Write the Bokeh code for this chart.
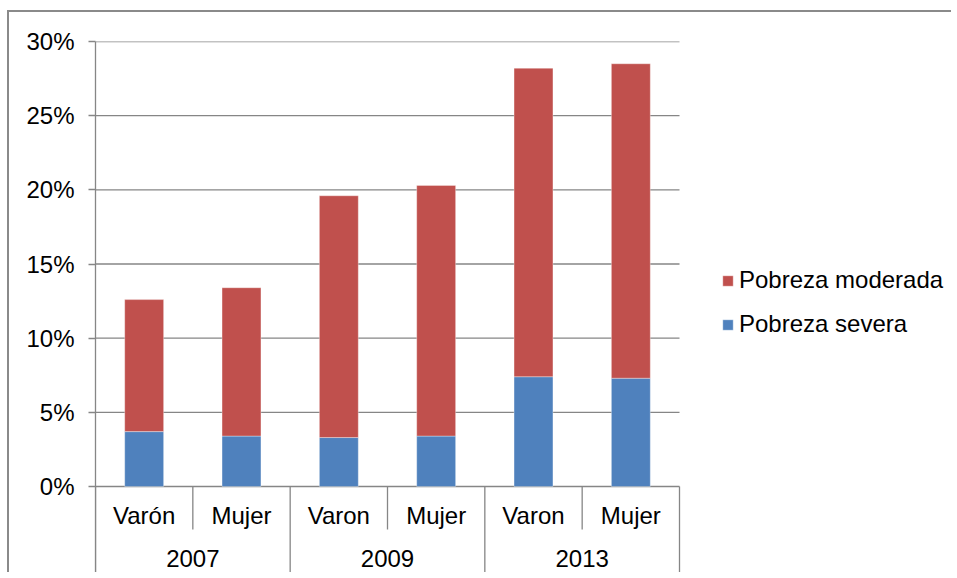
from bokeh.plotting import figure
from bokeh.models import ColumnDataSource, Range1d, FixedTicker, PrintfTickFormatter, Legend, LegendItem
from bokeh.embed import file_html
from bokeh.resources import INLINE
from bokeh.core.properties import value

# ---- data ----
years = ["2007", "2009", "2013"]
sexes = ["Varón", "Mujer", "Varon", "Mujer", "Varon", "Mujer"]
severa = [3.7, 3.4, 3.3, 3.4, 7.4, 7.3]
moderada = [8.9, 10.0, 16.3, 16.9, 20.8, 21.2]
y_ticks = [0, 5, 10, 15, 20, 25, 30]

FONT = "Liberation Sans"
FS = "24px"
GRAY = "#868686"
RED = "#C0504D"
BLUE = "#4F81BD"

# ---- layout (absolute page px) ----
OX, OY = 9, 12
W, H = 957 - OX - 4, 578 - OY - 4
PX_PER_PCT = (486 - 41) / 30.0
y_bot = -(573 - 486) / PX_PER_PCT
cat_px = (679 - 95) / 6.0
x_end = (957 - 4 - 95) / cat_px

n = len(sexes)
xs = [i + 0.5 for i in range(n)]
tops_sev = severa
tops_tot = [s + m for s, m in zip(severa, moderada)]

src = ColumnDataSource(dict(x=xs, sev=tops_sev, tot=tops_tot, zero=[0] * n, sex=sexes))

p = figure(width=W, height=H, output_backend="svg", toolbar_location=None,
           x_range=Range1d(0, x_end), y_range=Range1d(y_bot, 30),
           min_border_left=95 - OX, min_border_right=0,
           min_border_top=41 - OY, min_border_bottom=H - (573 - OY),
           x_axis_location=None)
p.styles = {"margin-left": "7px", "margin-top": "10px",
            "border-left": "2px solid #8a8a8a", "border-top": "2px solid #8a8a8a"}
p.outline_line_color = None
p.background_fill_color = "white"
p.border_fill_color = "white"

# horizontal gridlines, limited to the plot area (x = 0 .. number of categories)
p.xgrid.visible = False
p.ygrid.visible = False
p.segment(x0=[0] * len(y_ticks), x1=[n] * len(y_ticks), y0=y_ticks, y1=y_ticks,
          line_color=GRAY, line_width=1.3)

r_sev = p.vbar(x="x", bottom="zero", top="sev", width=0.4, source=src,
               fill_color=BLUE, line_color="white", line_alpha=0.35, line_width=1)
r_mod = p.vbar(x="x", bottom="sev", top="tot", width=0.4, source=src,
               fill_color=RED, line_color="white", line_alpha=0.35, line_width=1)

# y axis
p.yaxis.ticker = FixedTicker(ticks=y_ticks)
p.yaxis.formatter = PrintfTickFormatter(format="%d%%")
p.yaxis.axis_line_color = GRAY
p.yaxis.axis_line_width = 1.3
p.yaxis.major_tick_line_color = GRAY
p.yaxis.major_tick_line_width = 1.3
p.yaxis.major_tick_out = 7
p.yaxis.major_tick_in = 0
p.yaxis.minor_tick_line_color = None
p.yaxis.major_label_standoff = 14
p.yaxis.major_label_text_font = FONT
p.yaxis.major_label_text_font_size = FS
p.yaxis.major_label_text_color = "black"

# category separators (multi-level axis, Excel style)
grp_x = [2 * g for g in range(len(years) + 1)]
sub_x = [2 * g + 1 for g in range(len(years))]
sub_depth = -(529 - 486) / PX_PER_PCT
p.segment(x0=grp_x, x1=grp_x, y0=[0] * len(grp_x), y1=[y_bot] * len(grp_x),
          line_color=GRAY, line_width=1.3)
p.segment(x0=sub_x, x1=sub_x, y0=[0] * len(sub_x), y1=[sub_depth] * len(sub_x),
          line_color=GRAY, line_width=1.3)

# category labels
y_sub = -(515 - 486) / PX_PER_PCT
y_year = -(558 - 486) / PX_PER_PCT
p.text(x=xs, y=[y_sub] * n, text=sexes, text_font=value(FONT), text_font_size=FS,
       text_align="center", text_baseline="middle", text_color="black")
p.text(x=[2 * g + 1 for g in range(len(years))], y=[y_year] * len(years), text=years,
       text_font=value(FONT), text_font_size=FS,
       text_align="center", text_baseline="middle", text_color="black")

# legend
legend = Legend(items=[LegendItem(label="Pobreza moderada", renderers=[r_mod]),
                       LegendItem(label="Pobreza severa", renderers=[r_sev])],
                location=(721 - 95, 235),
                glyph_width=13, glyph_height=13, label_standoff=5,
                label_height=26, spacing=16, padding=0, margin=0,
                border_line_alpha=0, background_fill_alpha=0,
                label_text_font=FONT, label_text_font_size=FS, label_text_color="black")
p.add_layout(legend, "center")

open("out.html", "w").write(file_html(p, INLINE))
